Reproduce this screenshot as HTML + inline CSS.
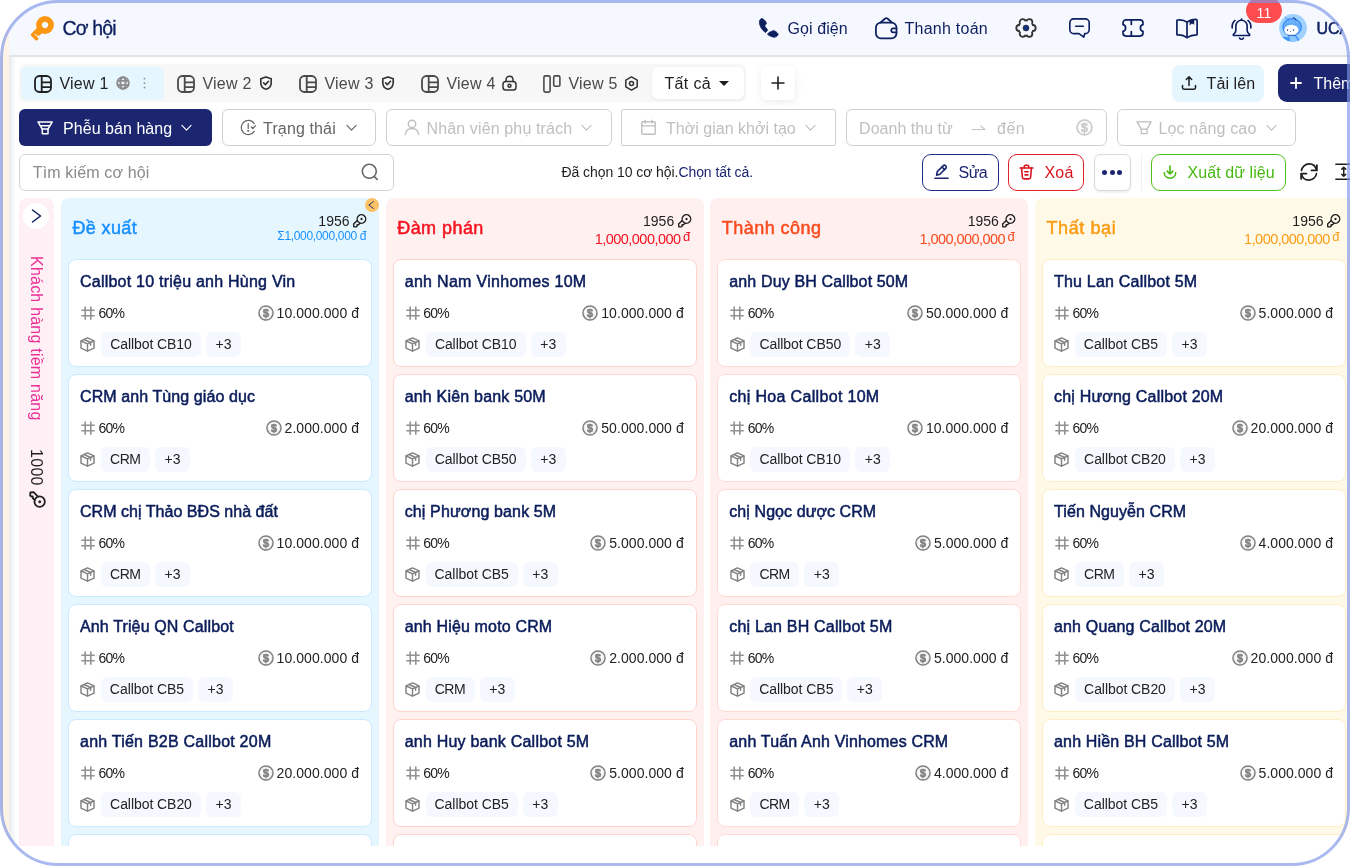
<!DOCTYPE html>
<html lang="vi"><head><meta charset="utf-8"><title>Cơ hội</title>
<style>
*{box-sizing:border-box;margin:0;padding:0}
html,body{width:1350px;height:867px;overflow:hidden;background:#fff}
body{font-family:"Liberation Sans",sans-serif;color:#1f1f1f;position:relative;-webkit-font-smoothing:antialiased}
svg{display:block;overflow:visible}
.abs{position:absolute}
.frame{position:absolute;left:0;top:0;width:1350px;height:866px;border-radius:58px;overflow:hidden;background:#fff}
.frameborder{position:absolute;left:0;top:0;width:1350px;height:866px;border-style:solid;border-color:rgba(124,147,230,.65);border-width:3px 3.1px 3.3px 3px;border-radius:58px;pointer-events:none;z-index:50}
.strip{position:absolute;left:0;top:0;width:9px;height:867px;background:#fdf3e6}
.stripshadow{position:absolute;left:9px;top:56px;width:7px;height:811px;background:linear-gradient(to right,#e8eaec,#ffffff)}
.app{position:absolute;left:9px;top:0;width:1341px;height:846px;overflow:hidden;background:transparent;will-change:transform;filter:blur(0.45px)}
.hdr{position:absolute;left:0;top:0;width:1341px;height:55px;background:#f5f8ff;border-bottom:0}
.hdrline{position:absolute;left:0;top:54.5px;width:1341px;height:2px;background:#e2e3e5}
.t{position:absolute;white-space:nowrap;line-height:1}
.med{-webkit-text-stroke:0.5px currentColor}
.navy{color:#0d1f5e}
/* tabs */
.tabs{position:absolute;left:10px;top:64px;width:727px;height:38px;background:#f7f7f7;border-radius:6px}
.tabact{position:absolute;left:11.7px;top:66.7px;width:143.3px;height:33.1px;background:#e6f6ff;border-radius:6px}
.tall{position:absolute;left:643px;top:67px;width:92px;height:32px;background:#fff;border-radius:6px;box-shadow:0 1px 3px rgba(0,0,0,.06)}
.tplus{position:absolute;left:752px;top:66px;width:34px;height:34px;background:#fff;border-radius:6px;box-shadow:0 2px 8px rgba(0,0,0,.08)}
.btn{position:absolute;border-radius:6px}
.fbtn{position:absolute;top:109px;height:37px;border:1px solid #d0d0d0;border-radius:6px;background:#fff}
.col{position:absolute;top:198px;width:318px;height:700px;border-radius:8px}
.card{position:absolute;left:7px;width:304px;height:108px;background:#fff;border:1px solid #bae0ff;border-radius:8px}
.ctitle{position:absolute;left:11px;top:14px;font-size:16px;color:#0a1c5a;white-space:nowrap;line-height:1;-webkit-text-stroke:0.5px #0a1c5a}
.pct{position:absolute;left:29.5px;top:46px;font-size:14px;color:#222;line-height:1;white-space:nowrap}
.amt{position:absolute;right:12px;top:45px;font-size:14px;color:#222;line-height:16px;white-space:nowrap;display:flex;align-items:center;gap:2.9px}
.tag{position:absolute;top:72px;height:25px;background:#f5f8ff;border-radius:6px;font-size:14px;color:#222;line-height:25px;white-space:nowrap;text-align:center}
.ico{position:absolute}
</style></head><body>
<div class="frame"><div class="strip"></div><div class="stripshadow"></div>
<div class="app">
<div class="hdr"></div><div class="hdrline"></div>
<div class="ico" style="left:20px;top:16px"><svg width="26" height="26" viewBox="0 0 26 26" fill="none" ><g transform="translate(16 9) rotate(45)"><circle r="8.900" fill="#fa960f"/><rect x="-3.600" y="5" width="7.200" height="12.400" rx="1.700" fill="#fa960f"/><rect x="1" y="13.900" width="4.300" height="3.500" rx="1.200" fill="#fa960f"/><circle r="3.100" fill="#f5f8ff"/><path d="M-0.700 13.400H3.700" stroke="#f5f8ff" stroke-width="1"/><path d="M3.700 11.300L2.300 12.600L3.700 13.900Z" fill="#f5f8ff"/></g></svg></div>
<div class="t " style="left:53.5px;top:19px;font-size:19.5px;color:#0d1f5e;letter-spacing:-0.822px;-webkit-text-stroke:0.3px #0d1f5e;">Cơ hội</div>
<div class="ico" style="left:749px;top:17px"><svg width="22" height="22" viewBox="0 0 22 22" fill="none" ><g fill="#0d1f5e" stroke="#0d1f5e" stroke-width="0.800" stroke-linejoin="round"><path d="M4.300 1.500C2.700 1.400 1.300 3 1.400 5.500C1.600 9.400 4 13 7.500 15.600L9.700 13.100L6.600 8.900L8.500 6.500C7.800 4.600 6.300 2.400 4.300 1.500Z"/><path d="M9.400 17.200L11.700 14.900L13.100 14.800L15.400 13.400C17.400 14.100 19.300 15.400 20.200 17.100C19.900 18.800 18.300 20.300 16.100 20.200C13.700 19.900 11.300 18.800 9.400 17.200Z"/></g></svg></div>
<div class="t " style="left:778.5px;top:21px;font-size:16px;color:#0d1f5e;letter-spacing:0.087px;">Gọi điện</div>
<div class="ico" style="left:865px;top:16px"><svg width="24" height="24" viewBox="0 0 24 24" fill="none" ><g stroke="#0d1f5e" stroke-width="1.750" stroke-linejoin="round" stroke-linecap="round"><path d="M6.600 6.500L11.200 2.500Q12.300 1.600 13.400 2.500L17.900 6.500"/><rect x="1.900" y="6.600" width="20.600" height="15.700" rx="5"/><path d="M22.400 12.300H19.300a2.050 2.050 0 0 0 0 4.100H22.400"/></g></svg></div>
<div class="t " style="left:895.5px;top:21px;font-size:16px;color:#0d1f5e;letter-spacing:0.250px;">Thanh toán</div>
<div class="ico" style="left:1005.5px;top:17px"><svg width="22" height="22" viewBox="0 0 22 22" fill="none" ><g stroke="#333" stroke-width="3.600" fill="#333"><circle cx="11" cy="11" r="6.700"/><circle cx="17.70" cy="11.00" r="2.100"/><circle cx="14.35" cy="16.80" r="2.100"/><circle cx="7.65" cy="16.80" r="2.100"/><circle cx="4.30" cy="11.00" r="2.100"/><circle cx="7.65" cy="5.20" r="2.100"/><circle cx="14.35" cy="5.20" r="2.100"/></g><g fill="#f5f8ff"><circle cx="11" cy="11" r="6.700"/><circle cx="17.70" cy="11.00" r="2.100"/><circle cx="14.35" cy="16.80" r="2.100"/><circle cx="7.65" cy="16.80" r="2.100"/><circle cx="4.30" cy="11.00" r="2.100"/><circle cx="7.65" cy="5.20" r="2.100"/><circle cx="14.35" cy="5.20" r="2.100"/></g><circle cx="11" cy="11" r="3" fill="#12307e" stroke="#333" stroke-width="0.700"/></svg></div>
<div class="ico" style="left:1058.5px;top:17px"><svg width="23" height="23" viewBox="0 0 24 24" fill="none" ><g stroke="#0d1f5e" stroke-width="1.7" stroke-linejoin="round" stroke-linecap="round"><path d="M6 1.900h12c2.300 0 4.100 1.800 4.100 4.100v7.300c0 2.300-1.800 4.100-4.100 4.100h-.6l-.9 3.600-5-3.600H6c-2.300 0-4.100-1.800-4.100-4.100V6c0-2.300 1.800-4.100 4.100-4.100z"/><path d="M8 9.600h8"/></g></svg></div>
<div class="ico" style="left:1112px;top:17px"><svg width="24" height="22" viewBox="0 0 24 22" fill="none" ><g stroke="#0d1f5e" stroke-width="1.7" stroke-linejoin="round" stroke-linecap="round"><path d="M5 2.900h14c1.700 0 3 1.300 3 3v1.800c-1.600.3-2.600 1.500-2.600 3.300s1 3 2.600 3.300v1.800c0 1.700-1.300 3-3 3H5c-1.700 0-3-1.300-3-3v-1.800c1.600-.3 2.600-1.500 2.600-3.300S3.600 8 2 7.700V5.900c0-1.700 1.300-3 3-3z"/><path d="M10.300 3.300v4.200M10.300 14.500v4.200"/></g></svg></div>
<div class="ico" style="left:1166px;top:17px"><svg width="24" height="23" viewBox="0 0 24 23" fill="none" ><g stroke="#0d1f5e" stroke-width="1.7" stroke-linejoin="round" stroke-linecap="round"><path d="M12 5.200c-2.600-2-5.800-2.700-9.600-2.200-.3 0-.5.300-.5.600v13.800c0 .4.300.6.700.6 3.400-.4 6.500.4 9.400 2.600"/><path d="M12 5.200c2.400-1.900 5.300-2.900 8.700-2.900.8 0 1.400.600 1.400 1.400v13.500c0 .4-.3.700-.7.700-3.500 0-6.600.800-9.400 2.700V5.200z"/></g><path d="M14.600 3.800l4.600-1.300v5.200l-2.300-1.200-2.300 1.900z" fill="#0d1f5e"/></svg></div>
<div class="ico" style="left:1221px;top:17.7px"><svg width="23" height="23" viewBox="0 0 24 24" fill="none" ><g stroke="#0d1f5e" stroke-width="1.7" stroke-linejoin="round" stroke-linecap="round"><path d="M12 2.400c-3.400 0-5.900 2.700-5.900 6.100v4.300c0 1.200-.5 2.300-1.300 3.100l-1.200 1.200c-.4.400-.1 1.100.5 1.100h15.800c.6 0 .9-.7.5-1.100l-1.200-1.200c-.8-.8-1.300-1.900-1.300-3.100V8.500c0-3.400-2.500-6.100-5.900-6.100z"/><path d="M12 2.400V1.200"/><path d="M10 20.900c.4.800 1.100 1.300 2 1.300s1.600-.5 2-1.300"/><path d="M5.300 2.600C3.100 4.400 1.900 7.100 2.300 10.400"/><path d="M18.700 2.600c2.200 1.800 3.400 4.500 3 7.800"/></g></svg></div>
<div class="abs" style="left:1237px;top:-2px;width:36px;height:25px;border-radius:13px;background:#ff4d4f"></div>
<div class="t " style="left:1247.5px;top:6px;font-size:14px;color:#fff;letter-spacing:0.167px;">11</div>
<div class="ico" style="left:1270px;top:14px"><svg width="28" height="28" viewBox="0 0 28 28" fill="none" ><defs><clipPath id="avc"><circle cx="14" cy="14" r="13.900"/></clipPath></defs>
<circle cx="14" cy="14" r="13.900" fill="#9fd1ff"/>
<g clip-path="url(#avc)">
<path d="M8 28.500C8 23.500 9.600 21 13.400 21s6.300 2.500 6.600 7.500z" fill="#8dc7ff" stroke="#2a7ff5" stroke-width="0.800"/>
<path d="M2.400 22.500l8.300 0.900 0.300 5.100H3.600z" fill="#3f96fb"/>
<path d="M16 21.500l3.600 5.500" stroke="#2a7ff5" stroke-width="0.700"/>
<ellipse cx="13.100" cy="13.100" rx="9.300" ry="8.600" fill="#62abf9" stroke="#1f78f2" stroke-width="0.900"/>
<g fill="#8fc6ff"><circle cx="8.600" cy="8.300" r="0.650"/><circle cx="10.800" cy="7.100" r="0.650"/><circle cx="13.200" cy="6.700" r="0.650"/><circle cx="15.600" cy="7.100" r="0.650"/><circle cx="17.700" cy="8.300" r="0.650"/><circle cx="12" cy="8.800" r="0.600"/><circle cx="14.500" cy="8.800" r="0.600"/></g>
<ellipse cx="12.400" cy="16" rx="7.100" ry="5.300" fill="#ffffff"/>
<ellipse cx="8.500" cy="16.100" rx="0.650" ry="0.900" fill="#2b3f86"/><ellipse cx="14.600" cy="16.100" rx="0.650" ry="0.900" fill="#2b3f86"/><circle cx="11.400" cy="17.500" r="0.550" fill="#5a6aa8"/>
<path d="M6.300 3.900l3.200 1.800" stroke="#2a7ff5" stroke-width="0.800" stroke-linecap="round"/><path d="M14.300 3.700l1.500 0.500 1.200 2" stroke="#0d1f5e" stroke-width="0.800" stroke-linecap="round" fill="none"/>
<path d="M8.500 21.200h7.500" stroke="#1f3f8a" stroke-width="0.600"/>
</g></svg></div>
<div class="t med" style="left:1307.5px;top:21px;font-size:16px;color:#0d1f5e;">UCALL</div>
<div class="tabs"></div><div class="tabact"></div><div class="tall"></div><div class="tplus"></div>
<div class="ico" style="left:25.200000000000003px;top:74.6px"><svg width="18" height="18" viewBox="0 0 18 18" fill="none" ><g stroke="#1f1f1f" stroke-width="1.8" stroke-linejoin="round"><rect x="1" y="1" width="16" height="16" rx="4.400"/><path d="M7.700 1v16M7.700 7.300h9.300M7.700 12.200h9.300"/></g></svg></div>
<div class="t " style="left:50.5px;top:76px;font-size:16px;color:#1f1f1f;letter-spacing:0.213px;">View 1</div>
<div class="ico" style="left:168.2px;top:74.6px"><svg width="18" height="18" viewBox="0 0 18 18" fill="none" ><g stroke="#4a4a4a" stroke-width="1.8" stroke-linejoin="round"><rect x="1" y="1" width="16" height="16" rx="4.400"/><path d="M7.700 1v16M7.700 7.300h9.300M7.700 12.200h9.300"/></g></svg></div>
<div class="t " style="left:193.5px;top:76px;font-size:16px;color:#4a4a4a;letter-spacing:0.213px;">View 2</div>
<div class="ico" style="left:290.2px;top:74.6px"><svg width="18" height="18" viewBox="0 0 18 18" fill="none" ><g stroke="#4a4a4a" stroke-width="1.8" stroke-linejoin="round"><rect x="1" y="1" width="16" height="16" rx="4.400"/><path d="M7.700 1v16M7.700 7.300h9.300M7.700 12.200h9.300"/></g></svg></div>
<div class="t " style="left:315.5px;top:76px;font-size:16px;color:#4a4a4a;letter-spacing:0.213px;">View 3</div>
<div class="ico" style="left:412.2px;top:74.6px"><svg width="18" height="18" viewBox="0 0 18 18" fill="none" ><g stroke="#4a4a4a" stroke-width="1.8" stroke-linejoin="round"><rect x="1" y="1" width="16" height="16" rx="4.400"/><path d="M7.700 1v16M7.700 7.300h9.300M7.700 12.200h9.300"/></g></svg></div>
<div class="t " style="left:437.5px;top:76px;font-size:16px;color:#4a4a4a;letter-spacing:0.213px;">View 4</div>
<div class="ico" style="left:107px;top:76px"><svg width="14" height="14" viewBox="0 0 14 14" fill="none" ><g stroke="#8c8c8c" stroke-width="1.900"><circle cx="7" cy="7" r="5.800"/><ellipse cx="7" cy="7" rx="2.500" ry="5.800"/><path d="M1.300 4.900h11.400M1.300 9.100h11.400"/></g></svg></div>
<div class="ico" style="left:133px;top:76px"><svg width="5" height="14" viewBox="0 0 5 14" fill="none" ><circle cx="2.500" cy="2.600" r="0.950" fill="#8c8c8c"/><circle cx="2.500" cy="7.100" r="0.950" fill="#8c8c8c"/><circle cx="2.500" cy="11.600" r="0.950" fill="#8c8c8c"/></svg></div>
<div class="ico" style="left:250px;top:76px"><svg width="14" height="14" viewBox="0 0 14 14" fill="none" ><g stroke="#333" stroke-width="1.650" stroke-linejoin="round" stroke-linecap="round"><path d="M7 0.900l5.200 1.900v4.100c0 3-2 5.300-5.200 6.300C3.800 12.200 1.800 9.900 1.800 6.900V2.800z"/><path d="M4.600 6.800l1.800 1.800 3.100-3.300"/></g></svg></div>
<div class="ico" style="left:372px;top:76px"><svg width="14" height="14" viewBox="0 0 14 14" fill="none" ><g stroke="#333" stroke-width="1.650" stroke-linejoin="round" stroke-linecap="round"><path d="M7 0.900l5.200 1.900v4.100c0 3-2 5.300-5.200 6.300C3.800 12.200 1.800 9.900 1.800 6.900V2.800z"/><path d="M4.600 6.800l1.800 1.800 3.100-3.300"/></g></svg></div>
<div class="ico" style="left:493px;top:75px"><svg width="15" height="16" viewBox="0 0 15 16" fill="none" ><g stroke="#333" stroke-width="1.500" stroke-linejoin="round" stroke-linecap="round"><rect x="1" y="6.600" width="13" height="8.400" rx="2.800"/><path d="M4 6.600V4.800C4 2.700 5.500 1.200 7.500 1.200S11 2.700 11 4.800v1.800"/><circle cx="7.500" cy="10.800" r="1.500"/></g></svg></div>
<div class="ico" style="left:534px;top:74.5px"><svg width="18" height="18" viewBox="0 0 18 18" fill="none" ><g stroke="#4a4a4a" stroke-width="1.6" stroke-linejoin="round"><rect x="0.900" y="0.900" width="6.200" height="16.200" rx="1.500"/><rect x="10.700" y="0.900" width="6.200" height="10.400" rx="1.500"/></g></svg></div>
<div class="t " style="left:559.5px;top:76px;font-size:16px;color:#4a4a4a;letter-spacing:0.213px;">View 5</div>
<div class="ico" style="left:615px;top:76px"><svg width="15" height="15" viewBox="0 0 15 15" fill="none" ><g stroke="#333" stroke-width="1.500" stroke-linejoin="round"><path d="M7.500 0.900l5.700 3.300v6.600l-5.700 3.300-5.700-3.300V4.200z"/><circle cx="7.500" cy="7.500" r="2"/></g></svg></div>
<div class="t " style="left:655.5px;top:76px;font-size:16px;color:#1f1f1f;letter-spacing:0.348px;">Tất cả</div>
<div class="abs" style="left:710px;top:81px;width:0;height:0;border-left:5px solid transparent;border-right:5px solid transparent;border-top:5.5px solid #1f1f1f"></div>
<div class="ico" style="left:761px;top:75px"><svg width="16" height="16" viewBox="0 0 16 16" fill="none" ><path d="M8 1.500v13M1.500 8h13" stroke="#1f1f1f" stroke-width="1.6"/></svg></div>
<div class="btn" style="left:1163px;top:65px;width:92px;height:36.5px;background:#e6f6ff;border-radius:8px"></div>
<div class="ico" style="left:1172px;top:75px"><svg width="16" height="16" viewBox="0 0 16 16" fill="none" ><g stroke="#1f1f1f" stroke-width="1.500" stroke-linecap="round" stroke-linejoin="round"><path d="M8 10.500V2M5.300 4.500L8 1.800l2.700 2.700"/><path d="M1.500 10.500v2.300c0 .8.600 1.400 1.400 1.400h10.200c.8 0 1.400-.6 1.400-1.400v-2.300"/></g></svg></div>
<div class="t " style="left:1197.5px;top:76px;font-size:16px;color:#1f1f1f;letter-spacing:0.113px;">Tải lên</div>
<div class="btn" style="left:1269px;top:64.4px;width:120px;height:37.3px;background:#1c2670;border-radius:9px"></div>
<div class="ico" style="left:1280.2px;top:76px"><svg width="14" height="14" viewBox="0 0 16 16" fill="none" ><path d="M8 1.500v13M1.500 8h13" stroke="#fff" stroke-width="2.1"/></svg></div>
<div class="t " style="left:1304.5px;top:76px;font-size:16px;color:#fff;">Thêm</div>
<div class="btn" style="left:10px;top:109px;width:193px;height:37px;background:#1c2670"></div>
<div class="ico" style="left:28px;top:120px"><svg width="16" height="15" viewBox="0 0 16 15" fill="none" ><g stroke="#fff" stroke-width="1.5" stroke-linejoin="round" stroke-linecap="round"><path d="M1 1.900h14.200L11 9.100H5.300z"/><path d="M5.300 9.100v4.600h5.700V9.100"/><path d="M3.500 5.700h9"/></g></svg></div>
<div class="t " style="left:54.1px;top:120.6px;font-size:16px;color:#fff;letter-spacing:0.038px;">Phễu bán hàng</div>
<div class="ico" style="left:172px;top:124px"><svg width="11" height="7.3" viewBox="0 0 12 8" fill="none" ><path d="M1 1.500l5 5.300 5-5.300" stroke="#fff" stroke-width="1.250" stroke-linecap="round" stroke-linejoin="round"/></svg></div>
<div class="fbtn" style="left:213px;width:154px"></div>
<div class="ico" style="left:230.7px;top:119.3px"><svg width="17" height="17" viewBox="0 0 17 17" fill="none" ><g stroke="#666" stroke-width="1.250" stroke-linecap="round" stroke-linejoin="round"><path d="M14.300 4.600A7.100 7.100 0 1 0 14.400 12.200"/><path d="M8.200 4.700v4.700"/><circle cx="8.200" cy="11.700" r="0.450" fill="#666"/><path d="M11.300 8l1.500 1.500 2.700-2.900"/></g></svg></div>
<div class="t " style="left:254.1px;top:120.6px;font-size:16px;color:#666;letter-spacing:0.128px;">Trạng thái</div>
<div class="ico" style="left:337px;top:124px"><svg width="11" height="7.3" viewBox="0 0 12 8" fill="none" ><path d="M1 1.500l5 5.300 5-5.300" stroke="#666" stroke-width="1.250" stroke-linecap="round" stroke-linejoin="round"/></svg></div>
<div class="fbtn" style="left:377px;width:226px"></div>
<div class="ico" style="left:395px;top:119px"><svg width="16" height="17" viewBox="0 0 16 17" fill="none" ><g stroke="#bfbfbf" stroke-width="1.400" stroke-linecap="round"><circle cx="8" cy="4.900" r="3.700"/><path d="M1.300 15.500c.5-3.700 3.200-6 6.700-6s6.200 2.300 6.700 6"/></g></svg></div>
<div class="t " style="left:417.5px;top:120.6px;font-size:16px;color:#bfbfbf;letter-spacing:0.133px;">Nhân viên phụ trách</div>
<div class="ico" style="left:572px;top:124px"><svg width="11" height="7.3" viewBox="0 0 12 8" fill="none" ><path d="M1 1.500l5 5.300 5-5.300" stroke="#bfbfbf" stroke-width="1.250" stroke-linecap="round" stroke-linejoin="round"/></svg></div>
<div class="fbtn" style="left:612px;width:215px;border-radius:2px"></div>
<div class="ico" style="left:632px;top:119px"><svg width="15" height="16" viewBox="0 0 15 16" fill="none" ><g stroke="#bfbfbf" stroke-width="1.400" stroke-linejoin="round"><rect x="0.800" y="2.800" width="13.400" height="12.400" rx="0.800"/><path d="M0.800 6.900h13.400M4.100 0.800v3.600M10.900 0.800v3.600"/></g></svg></div>
<div class="t " style="left:657.1px;top:120.6px;font-size:16px;color:#bfbfbf;letter-spacing:0.006px;">Thời gian khởi tạo</div>
<div class="ico" style="left:796px;top:124px"><svg width="11" height="7.3" viewBox="0 0 12 8" fill="none" ><path d="M1 1.500l5 5.300 5-5.300" stroke="#bfbfbf" stroke-width="1.250" stroke-linecap="round" stroke-linejoin="round"/></svg></div>
<div class="fbtn" style="left:837px;width:261px"></div>
<div class="t " style="left:850.1px;top:120.6px;font-size:16px;color:#bfbfbf;letter-spacing:0.015px;">Doanh thu từ</div>
<div class="ico" style="left:962px;top:121px"><svg width="15" height="14" viewBox="0 0 15 14" fill="none" ><path d="M1 8.500h13M9.500 4.800l4.500 3.700" stroke="#c4c4c4" stroke-width="1.100" stroke-linecap="round" stroke-linejoin="round"/></svg></div>
<div class="t " style="left:988.1px;top:120.6px;font-size:16px;color:#bfbfbf;letter-spacing:0.452px;">đến</div>
<div class="ico" style="left:1067px;top:119px"><svg width="17" height="17" viewBox="0 0 16 16" fill="none" ><circle cx="8" cy="8" r="7.050" stroke="#c8c8c8" stroke-width="1.500"/><circle cx="8" cy="8" r="5.500" stroke="#c8c8c8" stroke-width="0.500" opacity=".3"/><text x="8" y="12" text-anchor="middle" font-family="Liberation Sans, sans-serif" font-size="11.500" font-weight="bold" fill="#c8c8c8" stroke="#c8c8c8" stroke-width="0.500">$</text></svg></div>
<div class="fbtn" style="left:1108px;width:179px"></div>
<div class="ico" style="left:1126.5px;top:119.5px"><svg width="16" height="15" viewBox="0 0 16 15" fill="none" ><g stroke="#bfbfbf" stroke-width="1.3" stroke-linejoin="round" stroke-linecap="round"><path d="M1 1.900h14.200L11 9.100H5.300z"/><path d="M5.300 9.100v4.600h5.700V9.100"/></g></svg></div>
<div class="t " style="left:1149.5px;top:120.6px;font-size:16px;color:#bfbfbf;letter-spacing:0.157px;">Lọc nâng cao</div>
<div class="ico" style="left:1257px;top:124px"><svg width="11" height="7.3" viewBox="0 0 12 8" fill="none" ><path d="M1 1.500l5 5.300 5-5.300" stroke="#bfbfbf" stroke-width="1.250" stroke-linecap="round" stroke-linejoin="round"/></svg></div>
<div class="abs" style="left:10px;top:154px;width:375px;height:37px;border:1px solid #d4d4d4;border-radius:6px;background:#fff"></div>
<div class="t " style="left:23.8px;top:165px;font-size:16px;color:#8a8a8a;letter-spacing:0.142px;">Tìm kiếm cơ hội</div>
<div class="ico" style="left:352px;top:163px"><svg width="18" height="18" viewBox="0 0 18 18" fill="none" ><g stroke="#666" stroke-width="1.600" stroke-linecap="round"><circle cx="8.300" cy="8.300" r="7"/><path d="M13.600 13.900l2.600 2.500"/></g></svg></div>
<div class="t " style="left:552.5px;top:165.4px;font-size:14px;color:#1f1f1f;letter-spacing:-0.070px;">Đã chọn 10 cơ hội.<span style="color:#1c2670">Chọn tất cả.</span></div>
<div class="abs" style="left:913px;top:154px;width:77px;height:37px;border:1.7px solid #1d3080;border-radius:9px;background:#fff"></div>
<div class="ico" style="left:924.6px;top:164px"><svg width="15" height="16" viewBox="0 0 16 17" fill="none" ><g stroke="#1c2670" stroke-width="1.750" stroke-linecap="round" stroke-linejoin="round"><path d="M9.700 1.900c.8-.8 2-.8 2.800 0s.8 2 0 2.800L6.300 10.900l-3.500.9.700-3.700z"/><path d="M8.600 3.200l2.700 2.700"/><path d="M1 15.200h14"/></g></svg></div>
<div class="t " style="left:949.5px;top:165px;font-size:16px;color:#1c2670;letter-spacing:-0.541px;">Sửa</div>
<div class="abs" style="left:999px;top:154px;width:76px;height:37px;border:1.7px solid #e0222b;border-radius:9px;background:#fff"></div>
<div class="ico" style="left:1010.3px;top:164.2px"><svg width="15" height="16" viewBox="0 0 16 17" fill="none" ><g stroke="#d9141e" stroke-width="1.700" stroke-linecap="round" stroke-linejoin="round"><path d="M1.200 4.200h13.600"/><path d="M5.600 4V2.700c0-.8.600-1.400 1.400-1.400h2c.8 0 1.400.6 1.400 1.400V4"/><path d="M2.800 4.400l.8 9.700c.1 1 .9 1.700 1.900 1.700h5c1 0 1.800-.7 1.900-1.700l.8-9.700"/><path d="M6.200 8.300h3.600M6.500 11.600h3"/></g></svg></div>
<div class="t " style="left:1035.5px;top:165px;font-size:16px;color:#d9141e;letter-spacing:0.166px;">Xoá</div>
<div class="abs" style="left:1085px;top:154px;width:37px;height:37px;border:1px solid #d9d9d9;border-radius:6px;background:#fff;box-shadow:0 2px 2px rgba(0,0,0,.06)"></div>
<div class="abs" style="left:1093.2px;top:169.6px;width:5px;height:5px;border-radius:50%;background:#1c2670"></div>
<div class="abs" style="left:1100.5px;top:169.6px;width:5px;height:5px;border-radius:50%;background:#1c2670"></div>
<div class="abs" style="left:1107.8px;top:169.6px;width:5px;height:5px;border-radius:50%;background:#1c2670"></div>
<div class="abs" style="left:1131.5px;top:154px;width:1px;height:37px;background:#f0f0f0"></div>
<div class="abs" style="left:1142px;top:154px;width:135px;height:37px;border:1.7px solid #50c01a;border-radius:9px;background:#fff"></div>
<div class="ico" style="left:1154px;top:165px"><svg width="14" height="14" viewBox="0 0 15 15" fill="none" ><g stroke="#47b80f" stroke-width="1.700" stroke-linecap="round" stroke-linejoin="round"><path d="M7.500 1.200v8.300M4.400 6.600l3.100 3.100 3.100-3.100"/><path d="M1.400 8.400c0 3.400 2.700 5.800 6.100 5.800s6.100-2.400 6.100-5.800"/></g></svg></div>
<div class="t " style="left:1178.5px;top:165px;font-size:16px;color:#47b80f;letter-spacing:0.080px;">Xuất dữ liệu</div>
<div class="ico" style="left:1290.3px;top:162.4px"><svg width="20" height="20" viewBox="0 0 20 20" fill="none" ><g stroke="#1f1f1f" stroke-width="1.700" stroke-linecap="round" stroke-linejoin="round"><path d="M17.500 8.200C16.800 4.300 13.800 1.900 10 1.900c-3.700 0-7 2.800-7.500 6.600"/><path d="M17.900 3v5.400h-5.400"/><path d="M2.500 11.800c.7 3.900 3.700 6.300 7.500 6.300 3.700 0 7-2.800 7.500-6.600"/><path d="M2.100 17v-5.400h5.400"/></g></svg></div>
<div class="ico" style="left:1326px;top:163.4px"><svg width="17.5" height="17.5" viewBox="0 0 20 20" fill="none" ><g stroke="#1f1f1f" stroke-width="1.700" stroke-linecap="round" stroke-linejoin="round"><path d="M1 1.500h18M1 18.500h18"/><path d="M10 5v10M7.800 7l2.200-2.200L12.200 7M7.800 13l2.200 2.200 2.200-2.200"/></g></svg></div>
<div class="abs" style="left:10px;top:198px;width:35px;height:700px;border-radius:8px;background:#fff0f6"></div>
<div class="abs" style="left:14px;top:202.5px;width:26px;height:26px;border-radius:50%;background:#fff"></div>
<div class="ico" style="left:22px;top:209px"><svg width="11" height="14" viewBox="0 0 11 15" fill="none" preserveAspectRatio="none"><path d="M1.500 1l8 6.500-8 6.500" stroke="#0d1f5e" stroke-width="1.500" stroke-linecap="round" stroke-linejoin="round"/></svg></div>
<div class="t" style="left:18px;top:256px;font-size:16px;color:#eb2f96;writing-mode:vertical-rl;line-height:18px;height:175px;width:18px;letter-spacing:0.22px">Khách hàng tiềm năng</div>
<div class="t" style="left:19px;top:449px;font-size:16px;color:#1f1f1f;writing-mode:vertical-rl;line-height:16px;width:16px;letter-spacing:0.3px">1000</div>
<div class="ico" style="left:18px;top:488.5px;transform:rotate(90deg)"><svg width="20" height="20" viewBox="-8 -8 16 16" fill="none" ><g transform="rotate(45)" stroke="#1f1f1f" stroke-width="1.45" stroke-linejoin="round" stroke-linecap="round"><circle cx="0" cy="-3" r="4.150"/><circle cx="0" cy="-3.100" r="1.150" fill="#1f1f1f" stroke="none"/><path d="M-1.900 0.800V5.800L0 7.500L1.900 5.800V4.800L0.900 3.900L1.900 3V0.800"/></g></svg></div>
<div class="col" style="left:52px;background:#e6f6ff"><div class="t med" style="left:11.5px;top:21px;font-size:18px;color:#1890ff;letter-spacing:0.361px">Đề xuất</div><div class="t" style="right:29.5px;top:15.5px;font-size:14px;color:#1f1f1f">1956</div><div class="ico" style="left:290px;top:14.5px"><svg width="16.5" height="16.5" viewBox="-8 -8 16 16" fill="none" ><g transform="rotate(45)" stroke="#1f1f1f" stroke-width="1.35" stroke-linejoin="round" stroke-linecap="round"><circle cx="0" cy="-3" r="4.150"/><circle cx="0" cy="-3.100" r="1.150" fill="#1f1f1f" stroke="none"/><path d="M-1.900 0.800V5.800L0 7.500L1.900 5.800V4.800L0.900 3.900L1.900 3V0.800"/></g></svg></div><div class="t" style="right:12.5px;top:32px;font-size:12px;color:#1890ff;letter-spacing:-0.331px;margin-right:0.331px">Σ1,000,000,000 đ</div><div class="card" style="top:61px;border-color:#cbe9ff"><div class="ctitle" style="letter-spacing:0.231px">Callbot 10 triệu anh Hùng Vin</div><div class="ico" style="left:12px;top:46px"><svg width="14" height="15" viewBox="0 0 14 15" fill="none" ><path d="M4.200 0.400v13.400M9.800 0.400v13.400M0.300 4.300h13.400M0.300 9.700h13.400" stroke="#929292" stroke-width="1.600"/></svg></div><div class="pct" style="letter-spacing:-0.810px">60%</div><div class="amt"><svg width="16" height="16" viewBox="0 0 16 16" fill="none" ><circle cx="8" cy="8" r="7.050" stroke="#808080" stroke-width="1.500"/><circle cx="8" cy="8" r="5.500" stroke="#808080" stroke-width="0.500" opacity=".3"/><text x="8" y="12" text-anchor="middle" font-family="Liberation Sans, sans-serif" font-size="11.500" font-weight="bold" fill="#808080" stroke="#808080" stroke-width="0.500">$</text></svg><span style="letter-spacing:0.060px;margin-right:-0.060px">10.000.000 đ</span></div><div class="ico" style="left:11.3px;top:77px"><svg width="15" height="15" viewBox="0 0 15 15" fill="none" ><g stroke="#828282" stroke-width="1.450" stroke-linejoin="round" stroke-linecap="round"><path d="M7.500 0.900l6.500 3v7.200l-6.500 3-6.500-3V3.900z"/><path d="M1.200 4l6.300 2.900 6.300-2.900M7.500 6.900v7"/><path d="M4.100 2.500l6.500 3v2.700"/></g></svg></div><div class="tag" style="left:32px;width:100px;letter-spacing:-0.081px;text-indent:-0.081px">Callbot CB10</div><div class="tag" style="left:137px;width:35px">+3</div></div><div class="card" style="top:176px;border-color:#cbe9ff"><div class="ctitle" style="letter-spacing:0.088px">CRM anh Tùng giáo dục</div><div class="ico" style="left:12px;top:46px"><svg width="14" height="15" viewBox="0 0 14 15" fill="none" ><path d="M4.200 0.400v13.400M9.800 0.400v13.400M0.300 4.300h13.400M0.300 9.700h13.400" stroke="#929292" stroke-width="1.600"/></svg></div><div class="pct" style="letter-spacing:-0.810px">60%</div><div class="amt"><svg width="16" height="16" viewBox="0 0 16 16" fill="none" ><circle cx="8" cy="8" r="7.050" stroke="#808080" stroke-width="1.500"/><circle cx="8" cy="8" r="5.500" stroke="#808080" stroke-width="0.500" opacity=".3"/><text x="8" y="12" text-anchor="middle" font-family="Liberation Sans, sans-serif" font-size="11.500" font-weight="bold" fill="#808080" stroke="#808080" stroke-width="0.500">$</text></svg><span style="letter-spacing:0.045px;margin-right:-0.045px">2.000.000 đ</span></div><div class="ico" style="left:11.3px;top:77px"><svg width="15" height="15" viewBox="0 0 15 15" fill="none" ><g stroke="#828282" stroke-width="1.450" stroke-linejoin="round" stroke-linecap="round"><path d="M7.500 0.900l6.500 3v7.200l-6.500 3-6.500-3V3.900z"/><path d="M1.200 4l6.300 2.900 6.300-2.900M7.500 6.900v7"/><path d="M4.100 2.500l6.500 3v2.700"/></g></svg></div><div class="tag" style="left:32px;width:49px;letter-spacing:-0.542px;text-indent:-0.542px">CRM</div><div class="tag" style="left:86px;width:35px">+3</div></div><div class="card" style="top:291px;border-color:#cbe9ff"><div class="ctitle" style="letter-spacing:0.033px">CRM chị Thảo BĐS nhà đất</div><div class="ico" style="left:12px;top:46px"><svg width="14" height="15" viewBox="0 0 14 15" fill="none" ><path d="M4.200 0.400v13.400M9.800 0.400v13.400M0.300 4.300h13.400M0.300 9.700h13.400" stroke="#929292" stroke-width="1.600"/></svg></div><div class="pct" style="letter-spacing:-0.810px">60%</div><div class="amt"><svg width="16" height="16" viewBox="0 0 16 16" fill="none" ><circle cx="8" cy="8" r="7.050" stroke="#808080" stroke-width="1.500"/><circle cx="8" cy="8" r="5.500" stroke="#808080" stroke-width="0.500" opacity=".3"/><text x="8" y="12" text-anchor="middle" font-family="Liberation Sans, sans-serif" font-size="11.500" font-weight="bold" fill="#808080" stroke="#808080" stroke-width="0.500">$</text></svg><span style="letter-spacing:0.060px;margin-right:-0.060px">10.000.000 đ</span></div><div class="ico" style="left:11.3px;top:77px"><svg width="15" height="15" viewBox="0 0 15 15" fill="none" ><g stroke="#828282" stroke-width="1.450" stroke-linejoin="round" stroke-linecap="round"><path d="M7.500 0.900l6.500 3v7.200l-6.500 3-6.500-3V3.900z"/><path d="M1.200 4l6.300 2.900 6.300-2.900M7.500 6.900v7"/><path d="M4.100 2.500l6.500 3v2.700"/></g></svg></div><div class="tag" style="left:32px;width:49px;letter-spacing:-0.542px;text-indent:-0.542px">CRM</div><div class="tag" style="left:86px;width:35px">+3</div></div><div class="card" style="top:406px;border-color:#cbe9ff"><div class="ctitle" style="letter-spacing:0.133px">Anh Triệu QN Callbot</div><div class="ico" style="left:12px;top:46px"><svg width="14" height="15" viewBox="0 0 14 15" fill="none" ><path d="M4.200 0.400v13.400M9.800 0.400v13.400M0.300 4.300h13.400M0.300 9.700h13.400" stroke="#929292" stroke-width="1.600"/></svg></div><div class="pct" style="letter-spacing:-0.810px">60%</div><div class="amt"><svg width="16" height="16" viewBox="0 0 16 16" fill="none" ><circle cx="8" cy="8" r="7.050" stroke="#808080" stroke-width="1.500"/><circle cx="8" cy="8" r="5.500" stroke="#808080" stroke-width="0.500" opacity=".3"/><text x="8" y="12" text-anchor="middle" font-family="Liberation Sans, sans-serif" font-size="11.500" font-weight="bold" fill="#808080" stroke="#808080" stroke-width="0.500">$</text></svg><span style="letter-spacing:0.060px;margin-right:-0.060px">10.000.000 đ</span></div><div class="ico" style="left:11.3px;top:77px"><svg width="15" height="15" viewBox="0 0 15 15" fill="none" ><g stroke="#828282" stroke-width="1.450" stroke-linejoin="round" stroke-linecap="round"><path d="M7.500 0.900l6.500 3v7.200l-6.500 3-6.500-3V3.900z"/><path d="M1.200 4l6.300 2.900 6.300-2.900M7.500 6.900v7"/><path d="M4.100 2.500l6.500 3v2.700"/></g></svg></div><div class="tag" style="left:32px;width:92px;letter-spacing:-0.040px;text-indent:-0.040px">Callbot CB5</div><div class="tag" style="left:129px;width:35px">+3</div></div><div class="card" style="top:521px;border-color:#cbe9ff"><div class="ctitle" style="letter-spacing:0.231px">anh Tiến B2B Callbot 20M</div><div class="ico" style="left:12px;top:46px"><svg width="14" height="15" viewBox="0 0 14 15" fill="none" ><path d="M4.200 0.400v13.400M9.800 0.400v13.400M0.300 4.300h13.400M0.300 9.700h13.400" stroke="#929292" stroke-width="1.600"/></svg></div><div class="pct" style="letter-spacing:-0.810px">60%</div><div class="amt"><svg width="16" height="16" viewBox="0 0 16 16" fill="none" ><circle cx="8" cy="8" r="7.050" stroke="#808080" stroke-width="1.500"/><circle cx="8" cy="8" r="5.500" stroke="#808080" stroke-width="0.500" opacity=".3"/><text x="8" y="12" text-anchor="middle" font-family="Liberation Sans, sans-serif" font-size="11.500" font-weight="bold" fill="#808080" stroke="#808080" stroke-width="0.500">$</text></svg><span style="letter-spacing:0.060px;margin-right:-0.060px">20.000.000 đ</span></div><div class="ico" style="left:11.3px;top:77px"><svg width="15" height="15" viewBox="0 0 15 15" fill="none" ><g stroke="#828282" stroke-width="1.450" stroke-linejoin="round" stroke-linecap="round"><path d="M7.500 0.900l6.500 3v7.200l-6.500 3-6.500-3V3.900z"/><path d="M1.200 4l6.300 2.900 6.300-2.900M7.500 6.900v7"/><path d="M4.100 2.500l6.500 3v2.700"/></g></svg></div><div class="tag" style="left:32px;width:100px;letter-spacing:-0.063px;text-indent:-0.063px">Callbot CB20</div><div class="tag" style="left:137px;width:35px">+3</div></div><div class="card" style="top:636px;border-color:#cbe9ff"></div></div>
<div class="col" style="left:376.7px;background:#fff1f0"><div class="t med" style="left:11.5px;top:21px;font-size:18px;color:#f5121f;letter-spacing:0.450px">Đàm phán</div><div class="t" style="right:29.5px;top:15.5px;font-size:14px;color:#1f1f1f">1956</div><div class="ico" style="left:290px;top:14.5px"><svg width="16.5" height="16.5" viewBox="-8 -8 16 16" fill="none" ><g transform="rotate(45)" stroke="#1f1f1f" stroke-width="1.35" stroke-linejoin="round" stroke-linecap="round"><circle cx="0" cy="-3" r="4.150"/><circle cx="0" cy="-3.100" r="1.150" fill="#1f1f1f" stroke="none"/><path d="M-1.900 0.800V5.800L0 7.500L1.900 5.800V4.800L0.900 3.900L1.900 3V0.800"/></g></svg></div><div class="t" style="right:13.5px;top:33.7px;font-size:14.5px;color:#f5121f;letter-spacing:-0.544px">1,000,000,000<span style="font-size:13px;position:relative;top:-2.3px;margin-left:2.5px;letter-spacing:0">đ</span></div><div class="card" style="top:61px;border-color:#ffd4cf"><div class="ctitle" style="letter-spacing:0.300px">anh Nam Vinhomes 10M</div><div class="ico" style="left:12px;top:46px"><svg width="14" height="15" viewBox="0 0 14 15" fill="none" ><path d="M4.200 0.400v13.400M9.800 0.400v13.400M0.300 4.300h13.400M0.300 9.700h13.400" stroke="#929292" stroke-width="1.600"/></svg></div><div class="pct" style="letter-spacing:-0.810px">60%</div><div class="amt"><svg width="16" height="16" viewBox="0 0 16 16" fill="none" ><circle cx="8" cy="8" r="7.050" stroke="#808080" stroke-width="1.500"/><circle cx="8" cy="8" r="5.500" stroke="#808080" stroke-width="0.500" opacity=".3"/><text x="8" y="12" text-anchor="middle" font-family="Liberation Sans, sans-serif" font-size="11.500" font-weight="bold" fill="#808080" stroke="#808080" stroke-width="0.500">$</text></svg><span style="letter-spacing:0.060px;margin-right:-0.060px">10.000.000 đ</span></div><div class="ico" style="left:11.3px;top:77px"><svg width="15" height="15" viewBox="0 0 15 15" fill="none" ><g stroke="#828282" stroke-width="1.450" stroke-linejoin="round" stroke-linecap="round"><path d="M7.500 0.900l6.500 3v7.200l-6.500 3-6.500-3V3.900z"/><path d="M1.200 4l6.300 2.900 6.300-2.900M7.500 6.900v7"/><path d="M4.100 2.500l6.500 3v2.700"/></g></svg></div><div class="tag" style="left:32px;width:100px;letter-spacing:-0.081px;text-indent:-0.081px">Callbot CB10</div><div class="tag" style="left:137px;width:35px">+3</div></div><div class="card" style="top:176px;border-color:#ffd4cf"><div class="ctitle" style="letter-spacing:0.195px">anh Kiên bank 50M</div><div class="ico" style="left:12px;top:46px"><svg width="14" height="15" viewBox="0 0 14 15" fill="none" ><path d="M4.200 0.400v13.400M9.800 0.400v13.400M0.300 4.300h13.400M0.300 9.700h13.400" stroke="#929292" stroke-width="1.600"/></svg></div><div class="pct" style="letter-spacing:-0.810px">60%</div><div class="amt"><svg width="16" height="16" viewBox="0 0 16 16" fill="none" ><circle cx="8" cy="8" r="7.050" stroke="#808080" stroke-width="1.500"/><circle cx="8" cy="8" r="5.500" stroke="#808080" stroke-width="0.500" opacity=".3"/><text x="8" y="12" text-anchor="middle" font-family="Liberation Sans, sans-serif" font-size="11.500" font-weight="bold" fill="#808080" stroke="#808080" stroke-width="0.500">$</text></svg><span style="letter-spacing:0.060px;margin-right:-0.060px">50.000.000 đ</span></div><div class="ico" style="left:11.3px;top:77px"><svg width="15" height="15" viewBox="0 0 15 15" fill="none" ><g stroke="#828282" stroke-width="1.450" stroke-linejoin="round" stroke-linecap="round"><path d="M7.500 0.900l6.500 3v7.200l-6.500 3-6.500-3V3.900z"/><path d="M1.200 4l6.300 2.900 6.300-2.900M7.500 6.900v7"/><path d="M4.100 2.500l6.500 3v2.700"/></g></svg></div><div class="tag" style="left:32px;width:100px;letter-spacing:-0.063px;text-indent:-0.063px">Callbot CB50</div><div class="tag" style="left:137px;width:35px">+3</div></div><div class="card" style="top:291px;border-color:#ffd4cf"><div class="ctitle" style="letter-spacing:0.131px">chị Phương bank 5M</div><div class="ico" style="left:12px;top:46px"><svg width="14" height="15" viewBox="0 0 14 15" fill="none" ><path d="M4.200 0.400v13.400M9.800 0.400v13.400M0.300 4.300h13.400M0.300 9.700h13.400" stroke="#929292" stroke-width="1.600"/></svg></div><div class="pct" style="letter-spacing:-0.810px">60%</div><div class="amt"><svg width="16" height="16" viewBox="0 0 16 16" fill="none" ><circle cx="8" cy="8" r="7.050" stroke="#808080" stroke-width="1.500"/><circle cx="8" cy="8" r="5.500" stroke="#808080" stroke-width="0.500" opacity=".3"/><text x="8" y="12" text-anchor="middle" font-family="Liberation Sans, sans-serif" font-size="11.500" font-weight="bold" fill="#808080" stroke="#808080" stroke-width="0.500">$</text></svg><span style="letter-spacing:0.045px;margin-right:-0.045px">5.000.000 đ</span></div><div class="ico" style="left:11.3px;top:77px"><svg width="15" height="15" viewBox="0 0 15 15" fill="none" ><g stroke="#828282" stroke-width="1.450" stroke-linejoin="round" stroke-linecap="round"><path d="M7.500 0.900l6.500 3v7.200l-6.500 3-6.500-3V3.900z"/><path d="M1.200 4l6.300 2.900 6.300-2.900M7.500 6.900v7"/><path d="M4.100 2.500l6.500 3v2.700"/></g></svg></div><div class="tag" style="left:32px;width:92px;letter-spacing:-0.040px;text-indent:-0.040px">Callbot CB5</div><div class="tag" style="left:129px;width:35px">+3</div></div><div class="card" style="top:406px;border-color:#ffd4cf"><div class="ctitle" style="letter-spacing:0.160px">anh Hiệu moto CRM</div><div class="ico" style="left:12px;top:46px"><svg width="14" height="15" viewBox="0 0 14 15" fill="none" ><path d="M4.200 0.400v13.400M9.800 0.400v13.400M0.300 4.300h13.400M0.300 9.700h13.400" stroke="#929292" stroke-width="1.600"/></svg></div><div class="pct" style="letter-spacing:-0.810px">60%</div><div class="amt"><svg width="16" height="16" viewBox="0 0 16 16" fill="none" ><circle cx="8" cy="8" r="7.050" stroke="#808080" stroke-width="1.500"/><circle cx="8" cy="8" r="5.500" stroke="#808080" stroke-width="0.500" opacity=".3"/><text x="8" y="12" text-anchor="middle" font-family="Liberation Sans, sans-serif" font-size="11.500" font-weight="bold" fill="#808080" stroke="#808080" stroke-width="0.500">$</text></svg><span style="letter-spacing:0.045px;margin-right:-0.045px">2.000.000 đ</span></div><div class="ico" style="left:11.3px;top:77px"><svg width="15" height="15" viewBox="0 0 15 15" fill="none" ><g stroke="#828282" stroke-width="1.450" stroke-linejoin="round" stroke-linecap="round"><path d="M7.500 0.900l6.500 3v7.200l-6.500 3-6.500-3V3.900z"/><path d="M1.200 4l6.300 2.900 6.300-2.900M7.500 6.900v7"/><path d="M4.100 2.500l6.500 3v2.700"/></g></svg></div><div class="tag" style="left:32px;width:49px;letter-spacing:-0.542px;text-indent:-0.542px">CRM</div><div class="tag" style="left:86px;width:35px">+3</div></div><div class="card" style="top:521px;border-color:#ffd4cf"><div class="ctitle" style="letter-spacing:0.220px">anh Huy bank Callbot 5M</div><div class="ico" style="left:12px;top:46px"><svg width="14" height="15" viewBox="0 0 14 15" fill="none" ><path d="M4.200 0.400v13.400M9.800 0.400v13.400M0.300 4.300h13.400M0.300 9.700h13.400" stroke="#929292" stroke-width="1.600"/></svg></div><div class="pct" style="letter-spacing:-0.810px">60%</div><div class="amt"><svg width="16" height="16" viewBox="0 0 16 16" fill="none" ><circle cx="8" cy="8" r="7.050" stroke="#808080" stroke-width="1.500"/><circle cx="8" cy="8" r="5.500" stroke="#808080" stroke-width="0.500" opacity=".3"/><text x="8" y="12" text-anchor="middle" font-family="Liberation Sans, sans-serif" font-size="11.500" font-weight="bold" fill="#808080" stroke="#808080" stroke-width="0.500">$</text></svg><span style="letter-spacing:0.045px;margin-right:-0.045px">5.000.000 đ</span></div><div class="ico" style="left:11.3px;top:77px"><svg width="15" height="15" viewBox="0 0 15 15" fill="none" ><g stroke="#828282" stroke-width="1.450" stroke-linejoin="round" stroke-linecap="round"><path d="M7.500 0.900l6.500 3v7.200l-6.500 3-6.500-3V3.900z"/><path d="M1.200 4l6.300 2.900 6.300-2.900M7.500 6.900v7"/><path d="M4.100 2.500l6.500 3v2.700"/></g></svg></div><div class="tag" style="left:32px;width:92px;letter-spacing:-0.040px;text-indent:-0.040px">Callbot CB5</div><div class="tag" style="left:129px;width:35px">+3</div></div><div class="card" style="top:636px;border-color:#ffd4cf"></div></div>
<div class="col" style="left:701.3px;background:#fff0ef"><div class="t med" style="left:11.5px;top:21px;font-size:18px;color:#fa4a1e;letter-spacing:0.459px">Thành công</div><div class="t" style="right:29.5px;top:15.5px;font-size:14px;color:#1f1f1f">1956</div><div class="ico" style="left:290px;top:14.5px"><svg width="16.5" height="16.5" viewBox="-8 -8 16 16" fill="none" ><g transform="rotate(45)" stroke="#1f1f1f" stroke-width="1.35" stroke-linejoin="round" stroke-linecap="round"><circle cx="0" cy="-3" r="4.150"/><circle cx="0" cy="-3.100" r="1.150" fill="#1f1f1f" stroke="none"/><path d="M-1.900 0.800V5.800L0 7.500L1.900 5.800V4.800L0.900 3.900L1.900 3V0.800"/></g></svg></div><div class="t" style="right:13.5px;top:33.7px;font-size:14.5px;color:#fa4a1e;letter-spacing:-0.544px">1,000,000,000<span style="font-size:13px;position:relative;top:-2.3px;margin-left:2.5px;letter-spacing:0">đ</span></div><div class="card" style="top:61px;border-color:#ffdad2"><div class="ctitle" style="letter-spacing:0.134px">anh Duy BH Callbot 50M</div><div class="ico" style="left:12px;top:46px"><svg width="14" height="15" viewBox="0 0 14 15" fill="none" ><path d="M4.200 0.400v13.400M9.800 0.400v13.400M0.300 4.300h13.400M0.300 9.700h13.400" stroke="#929292" stroke-width="1.600"/></svg></div><div class="pct" style="letter-spacing:-0.810px">60%</div><div class="amt"><svg width="16" height="16" viewBox="0 0 16 16" fill="none" ><circle cx="8" cy="8" r="7.050" stroke="#808080" stroke-width="1.500"/><circle cx="8" cy="8" r="5.500" stroke="#808080" stroke-width="0.500" opacity=".3"/><text x="8" y="12" text-anchor="middle" font-family="Liberation Sans, sans-serif" font-size="11.500" font-weight="bold" fill="#808080" stroke="#808080" stroke-width="0.500">$</text></svg><span style="letter-spacing:0.060px;margin-right:-0.060px">50.000.000 đ</span></div><div class="ico" style="left:11.3px;top:77px"><svg width="15" height="15" viewBox="0 0 15 15" fill="none" ><g stroke="#828282" stroke-width="1.450" stroke-linejoin="round" stroke-linecap="round"><path d="M7.500 0.900l6.500 3v7.200l-6.500 3-6.500-3V3.900z"/><path d="M1.200 4l6.300 2.900 6.300-2.900M7.500 6.900v7"/><path d="M4.100 2.500l6.500 3v2.700"/></g></svg></div><div class="tag" style="left:32px;width:100px;letter-spacing:-0.063px;text-indent:-0.063px">Callbot CB50</div><div class="tag" style="left:137px;width:35px">+3</div></div><div class="card" style="top:176px;border-color:#ffdad2"><div class="ctitle" style="letter-spacing:0.324px">chị Hoa Callbot 10M</div><div class="ico" style="left:12px;top:46px"><svg width="14" height="15" viewBox="0 0 14 15" fill="none" ><path d="M4.200 0.400v13.400M9.800 0.400v13.400M0.300 4.300h13.400M0.300 9.700h13.400" stroke="#929292" stroke-width="1.600"/></svg></div><div class="pct" style="letter-spacing:-0.810px">60%</div><div class="amt"><svg width="16" height="16" viewBox="0 0 16 16" fill="none" ><circle cx="8" cy="8" r="7.050" stroke="#808080" stroke-width="1.500"/><circle cx="8" cy="8" r="5.500" stroke="#808080" stroke-width="0.500" opacity=".3"/><text x="8" y="12" text-anchor="middle" font-family="Liberation Sans, sans-serif" font-size="11.500" font-weight="bold" fill="#808080" stroke="#808080" stroke-width="0.500">$</text></svg><span style="letter-spacing:0.060px;margin-right:-0.060px">10.000.000 đ</span></div><div class="ico" style="left:11.3px;top:77px"><svg width="15" height="15" viewBox="0 0 15 15" fill="none" ><g stroke="#828282" stroke-width="1.450" stroke-linejoin="round" stroke-linecap="round"><path d="M7.500 0.900l6.500 3v7.200l-6.500 3-6.500-3V3.900z"/><path d="M1.200 4l6.300 2.900 6.300-2.900M7.500 6.900v7"/><path d="M4.100 2.500l6.500 3v2.700"/></g></svg></div><div class="tag" style="left:32px;width:100px;letter-spacing:-0.081px;text-indent:-0.081px">Callbot CB10</div><div class="tag" style="left:137px;width:35px">+3</div></div><div class="card" style="top:291px;border-color:#ffdad2"><div class="ctitle" style="letter-spacing:0.076px">chị Ngọc dược CRM</div><div class="ico" style="left:12px;top:46px"><svg width="14" height="15" viewBox="0 0 14 15" fill="none" ><path d="M4.200 0.400v13.400M9.800 0.400v13.400M0.300 4.300h13.400M0.300 9.700h13.400" stroke="#929292" stroke-width="1.600"/></svg></div><div class="pct" style="letter-spacing:-0.810px">60%</div><div class="amt"><svg width="16" height="16" viewBox="0 0 16 16" fill="none" ><circle cx="8" cy="8" r="7.050" stroke="#808080" stroke-width="1.500"/><circle cx="8" cy="8" r="5.500" stroke="#808080" stroke-width="0.500" opacity=".3"/><text x="8" y="12" text-anchor="middle" font-family="Liberation Sans, sans-serif" font-size="11.500" font-weight="bold" fill="#808080" stroke="#808080" stroke-width="0.500">$</text></svg><span style="letter-spacing:0.045px;margin-right:-0.045px">5.000.000 đ</span></div><div class="ico" style="left:11.3px;top:77px"><svg width="15" height="15" viewBox="0 0 15 15" fill="none" ><g stroke="#828282" stroke-width="1.450" stroke-linejoin="round" stroke-linecap="round"><path d="M7.500 0.900l6.500 3v7.200l-6.500 3-6.500-3V3.900z"/><path d="M1.200 4l6.300 2.900 6.300-2.900M7.500 6.900v7"/><path d="M4.100 2.500l6.500 3v2.700"/></g></svg></div><div class="tag" style="left:32px;width:49px;letter-spacing:-0.542px;text-indent:-0.542px">CRM</div><div class="tag" style="left:86px;width:35px">+3</div></div><div class="card" style="top:406px;border-color:#ffdad2"><div class="ctitle" style="letter-spacing:0.186px">chị Lan BH Callbot 5M</div><div class="ico" style="left:12px;top:46px"><svg width="14" height="15" viewBox="0 0 14 15" fill="none" ><path d="M4.200 0.400v13.400M9.800 0.400v13.400M0.300 4.300h13.400M0.300 9.700h13.400" stroke="#929292" stroke-width="1.600"/></svg></div><div class="pct" style="letter-spacing:-0.810px">60%</div><div class="amt"><svg width="16" height="16" viewBox="0 0 16 16" fill="none" ><circle cx="8" cy="8" r="7.050" stroke="#808080" stroke-width="1.500"/><circle cx="8" cy="8" r="5.500" stroke="#808080" stroke-width="0.500" opacity=".3"/><text x="8" y="12" text-anchor="middle" font-family="Liberation Sans, sans-serif" font-size="11.500" font-weight="bold" fill="#808080" stroke="#808080" stroke-width="0.500">$</text></svg><span style="letter-spacing:0.045px;margin-right:-0.045px">5.000.000 đ</span></div><div class="ico" style="left:11.3px;top:77px"><svg width="15" height="15" viewBox="0 0 15 15" fill="none" ><g stroke="#828282" stroke-width="1.450" stroke-linejoin="round" stroke-linecap="round"><path d="M7.500 0.900l6.500 3v7.200l-6.500 3-6.500-3V3.900z"/><path d="M1.200 4l6.300 2.900 6.300-2.900M7.500 6.900v7"/><path d="M4.100 2.500l6.500 3v2.700"/></g></svg></div><div class="tag" style="left:32px;width:92px;letter-spacing:-0.040px;text-indent:-0.040px">Callbot CB5</div><div class="tag" style="left:129px;width:35px">+3</div></div><div class="card" style="top:521px;border-color:#ffdad2"><div class="ctitle" style="letter-spacing:0.165px">anh Tuấn Anh Vinhomes CRM</div><div class="ico" style="left:12px;top:46px"><svg width="14" height="15" viewBox="0 0 14 15" fill="none" ><path d="M4.200 0.400v13.400M9.800 0.400v13.400M0.300 4.300h13.400M0.300 9.700h13.400" stroke="#929292" stroke-width="1.600"/></svg></div><div class="pct" style="letter-spacing:-0.810px">60%</div><div class="amt"><svg width="16" height="16" viewBox="0 0 16 16" fill="none" ><circle cx="8" cy="8" r="7.050" stroke="#808080" stroke-width="1.500"/><circle cx="8" cy="8" r="5.500" stroke="#808080" stroke-width="0.500" opacity=".3"/><text x="8" y="12" text-anchor="middle" font-family="Liberation Sans, sans-serif" font-size="11.500" font-weight="bold" fill="#808080" stroke="#808080" stroke-width="0.500">$</text></svg><span style="letter-spacing:0.045px;margin-right:-0.045px">4.000.000 đ</span></div><div class="ico" style="left:11.3px;top:77px"><svg width="15" height="15" viewBox="0 0 15 15" fill="none" ><g stroke="#828282" stroke-width="1.450" stroke-linejoin="round" stroke-linecap="round"><path d="M7.500 0.900l6.500 3v7.200l-6.500 3-6.500-3V3.900z"/><path d="M1.200 4l6.300 2.900 6.300-2.900M7.500 6.900v7"/><path d="M4.100 2.500l6.500 3v2.700"/></g></svg></div><div class="tag" style="left:32px;width:49px;letter-spacing:-0.542px;text-indent:-0.542px">CRM</div><div class="tag" style="left:86px;width:35px">+3</div></div><div class="card" style="top:636px;border-color:#ffdad2"></div></div>
<div class="col" style="left:1026px;background:#fff9e8"><div class="t med" style="left:11.5px;top:21px;font-size:18px;color:#fa9c14;letter-spacing:0.594px">Thất bại</div><div class="t" style="right:29.5px;top:15.5px;font-size:14px;color:#1f1f1f">1956</div><div class="ico" style="left:290px;top:14.5px"><svg width="16.5" height="16.5" viewBox="-8 -8 16 16" fill="none" ><g transform="rotate(45)" stroke="#1f1f1f" stroke-width="1.35" stroke-linejoin="round" stroke-linecap="round"><circle cx="0" cy="-3" r="4.150"/><circle cx="0" cy="-3.100" r="1.150" fill="#1f1f1f" stroke="none"/><path d="M-1.900 0.800V5.800L0 7.500L1.900 5.800V4.800L0.900 3.900L1.900 3V0.800"/></g></svg></div><div class="t" style="right:13.5px;top:33.7px;font-size:14.5px;color:#fa9c14;letter-spacing:-0.544px">1,000,000,000<span style="font-size:13px;position:relative;top:-2.3px;margin-left:2.5px;letter-spacing:0">đ</span></div><div class="card" style="top:61px;border-color:#ffedc4"><div class="ctitle" style="letter-spacing:0.210px">Thu Lan Callbot 5M</div><div class="ico" style="left:12px;top:46px"><svg width="14" height="15" viewBox="0 0 14 15" fill="none" ><path d="M4.200 0.400v13.400M9.800 0.400v13.400M0.300 4.300h13.400M0.300 9.700h13.400" stroke="#929292" stroke-width="1.600"/></svg></div><div class="pct" style="letter-spacing:-0.810px">60%</div><div class="amt"><svg width="16" height="16" viewBox="0 0 16 16" fill="none" ><circle cx="8" cy="8" r="7.050" stroke="#808080" stroke-width="1.500"/><circle cx="8" cy="8" r="5.500" stroke="#808080" stroke-width="0.500" opacity=".3"/><text x="8" y="12" text-anchor="middle" font-family="Liberation Sans, sans-serif" font-size="11.500" font-weight="bold" fill="#808080" stroke="#808080" stroke-width="0.500">$</text></svg><span style="letter-spacing:0.045px;margin-right:-0.045px">5.000.000 đ</span></div><div class="ico" style="left:11.3px;top:77px"><svg width="15" height="15" viewBox="0 0 15 15" fill="none" ><g stroke="#828282" stroke-width="1.450" stroke-linejoin="round" stroke-linecap="round"><path d="M7.500 0.900l6.500 3v7.200l-6.500 3-6.500-3V3.900z"/><path d="M1.200 4l6.300 2.900 6.300-2.900M7.500 6.900v7"/><path d="M4.100 2.500l6.500 3v2.700"/></g></svg></div><div class="tag" style="left:32px;width:92px;letter-spacing:-0.040px;text-indent:-0.040px">Callbot CB5</div><div class="tag" style="left:129px;width:35px">+3</div></div><div class="card" style="top:176px;border-color:#ffedc4"><div class="ctitle" style="letter-spacing:0.196px">chị Hương Callbot 20M</div><div class="ico" style="left:12px;top:46px"><svg width="14" height="15" viewBox="0 0 14 15" fill="none" ><path d="M4.200 0.400v13.400M9.800 0.400v13.400M0.300 4.300h13.400M0.300 9.700h13.400" stroke="#929292" stroke-width="1.600"/></svg></div><div class="pct" style="letter-spacing:-0.810px">60%</div><div class="amt"><svg width="16" height="16" viewBox="0 0 16 16" fill="none" ><circle cx="8" cy="8" r="7.050" stroke="#808080" stroke-width="1.500"/><circle cx="8" cy="8" r="5.500" stroke="#808080" stroke-width="0.500" opacity=".3"/><text x="8" y="12" text-anchor="middle" font-family="Liberation Sans, sans-serif" font-size="11.500" font-weight="bold" fill="#808080" stroke="#808080" stroke-width="0.500">$</text></svg><span style="letter-spacing:0.060px;margin-right:-0.060px">20.000.000 đ</span></div><div class="ico" style="left:11.3px;top:77px"><svg width="15" height="15" viewBox="0 0 15 15" fill="none" ><g stroke="#828282" stroke-width="1.450" stroke-linejoin="round" stroke-linecap="round"><path d="M7.500 0.900l6.500 3v7.200l-6.500 3-6.500-3V3.900z"/><path d="M1.200 4l6.300 2.900 6.300-2.900M7.500 6.900v7"/><path d="M4.100 2.500l6.500 3v2.700"/></g></svg></div><div class="tag" style="left:32px;width:100px;letter-spacing:-0.063px;text-indent:-0.063px">Callbot CB20</div><div class="tag" style="left:137px;width:35px">+3</div></div><div class="card" style="top:291px;border-color:#ffedc4"><div class="ctitle" style="letter-spacing:0.085px">Tiến Nguyễn CRM</div><div class="ico" style="left:12px;top:46px"><svg width="14" height="15" viewBox="0 0 14 15" fill="none" ><path d="M4.200 0.400v13.400M9.800 0.400v13.400M0.300 4.300h13.400M0.300 9.700h13.400" stroke="#929292" stroke-width="1.600"/></svg></div><div class="pct" style="letter-spacing:-0.810px">60%</div><div class="amt"><svg width="16" height="16" viewBox="0 0 16 16" fill="none" ><circle cx="8" cy="8" r="7.050" stroke="#808080" stroke-width="1.500"/><circle cx="8" cy="8" r="5.500" stroke="#808080" stroke-width="0.500" opacity=".3"/><text x="8" y="12" text-anchor="middle" font-family="Liberation Sans, sans-serif" font-size="11.500" font-weight="bold" fill="#808080" stroke="#808080" stroke-width="0.500">$</text></svg><span style="letter-spacing:0.045px;margin-right:-0.045px">4.000.000 đ</span></div><div class="ico" style="left:11.3px;top:77px"><svg width="15" height="15" viewBox="0 0 15 15" fill="none" ><g stroke="#828282" stroke-width="1.450" stroke-linejoin="round" stroke-linecap="round"><path d="M7.500 0.900l6.500 3v7.200l-6.500 3-6.500-3V3.900z"/><path d="M1.200 4l6.300 2.900 6.300-2.900M7.500 6.900v7"/><path d="M4.100 2.500l6.500 3v2.700"/></g></svg></div><div class="tag" style="left:32px;width:49px;letter-spacing:-0.542px;text-indent:-0.542px">CRM</div><div class="tag" style="left:86px;width:35px">+3</div></div><div class="card" style="top:406px;border-color:#ffedc4"><div class="ctitle" style="letter-spacing:0.160px">anh Quang Callbot 20M</div><div class="ico" style="left:12px;top:46px"><svg width="14" height="15" viewBox="0 0 14 15" fill="none" ><path d="M4.200 0.400v13.400M9.800 0.400v13.400M0.300 4.300h13.400M0.300 9.700h13.400" stroke="#929292" stroke-width="1.600"/></svg></div><div class="pct" style="letter-spacing:-0.810px">60%</div><div class="amt"><svg width="16" height="16" viewBox="0 0 16 16" fill="none" ><circle cx="8" cy="8" r="7.050" stroke="#808080" stroke-width="1.500"/><circle cx="8" cy="8" r="5.500" stroke="#808080" stroke-width="0.500" opacity=".3"/><text x="8" y="12" text-anchor="middle" font-family="Liberation Sans, sans-serif" font-size="11.500" font-weight="bold" fill="#808080" stroke="#808080" stroke-width="0.500">$</text></svg><span style="letter-spacing:0.060px;margin-right:-0.060px">20.000.000 đ</span></div><div class="ico" style="left:11.3px;top:77px"><svg width="15" height="15" viewBox="0 0 15 15" fill="none" ><g stroke="#828282" stroke-width="1.450" stroke-linejoin="round" stroke-linecap="round"><path d="M7.500 0.900l6.500 3v7.200l-6.500 3-6.500-3V3.900z"/><path d="M1.200 4l6.300 2.900 6.300-2.900M7.500 6.900v7"/><path d="M4.100 2.500l6.500 3v2.700"/></g></svg></div><div class="tag" style="left:32px;width:100px;letter-spacing:-0.063px;text-indent:-0.063px">Callbot CB20</div><div class="tag" style="left:137px;width:35px">+3</div></div><div class="card" style="top:521px;border-color:#ffedc4"><div class="ctitle" style="letter-spacing:0.169px">anh Hiền BH Callbot 5M</div><div class="ico" style="left:12px;top:46px"><svg width="14" height="15" viewBox="0 0 14 15" fill="none" ><path d="M4.200 0.400v13.400M9.800 0.400v13.400M0.300 4.300h13.400M0.300 9.700h13.400" stroke="#929292" stroke-width="1.600"/></svg></div><div class="pct" style="letter-spacing:-0.810px">60%</div><div class="amt"><svg width="16" height="16" viewBox="0 0 16 16" fill="none" ><circle cx="8" cy="8" r="7.050" stroke="#808080" stroke-width="1.500"/><circle cx="8" cy="8" r="5.500" stroke="#808080" stroke-width="0.500" opacity=".3"/><text x="8" y="12" text-anchor="middle" font-family="Liberation Sans, sans-serif" font-size="11.500" font-weight="bold" fill="#808080" stroke="#808080" stroke-width="0.500">$</text></svg><span style="letter-spacing:0.045px;margin-right:-0.045px">5.000.000 đ</span></div><div class="ico" style="left:11.3px;top:77px"><svg width="15" height="15" viewBox="0 0 15 15" fill="none" ><g stroke="#828282" stroke-width="1.450" stroke-linejoin="round" stroke-linecap="round"><path d="M7.500 0.900l6.500 3v7.200l-6.500 3-6.500-3V3.900z"/><path d="M1.200 4l6.300 2.900 6.300-2.900M7.500 6.900v7"/><path d="M4.100 2.500l6.500 3v2.700"/></g></svg></div><div class="tag" style="left:32px;width:92px;letter-spacing:-0.040px;text-indent:-0.040px">Callbot CB5</div><div class="tag" style="left:129px;width:35px">+3</div></div><div class="card" style="top:636px;border-color:#ffedc4"></div></div>
<div class="abs" style="left:355.5px;top:198px;width:14px;height:14px;border-radius:50%;background:#fdc166"></div>
<div class="ico" style="left:359.3px;top:201px"><svg width="6" height="8" viewBox="0 0 6 8" fill="none" ><path d="M5.400 0.600L0.800 4 5.400 7.400" stroke="#1c2b6e" stroke-width="0.950" stroke-linecap="round" stroke-linejoin="round"/></svg></div>
</div></div>
<div class="frameborder"></div>
</body></html>
